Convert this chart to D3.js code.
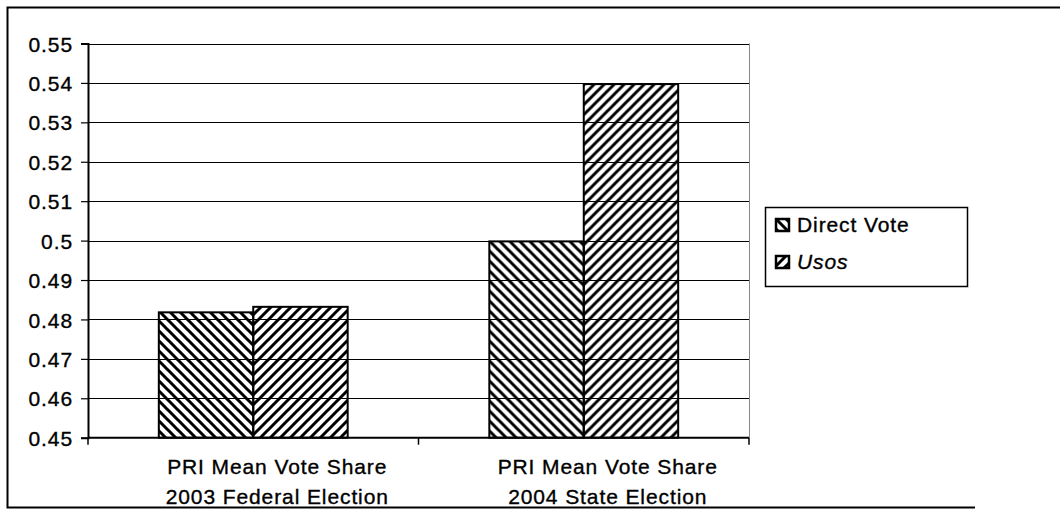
<!DOCTYPE html>
<html lang="en">
<head>
    <meta charset="UTF-8">
    <title>PRI Mean Vote Share</title>
    <style>
        body { margin: 0; background: #fff; }
        svg { display: block; }
        text { font-family: "Liberation Sans", Arial, sans-serif; font-size: 21px; letter-spacing: 0.9px; fill: #000; stroke: #000; stroke-width: 0.35px; }
    </style>
</head>
<body>
    <svg id="chart" width="1060" height="509"></svg>
    <script src="https://d3js.org/d3.v7.min.js"></script>
    <script>
        // data
        const categories = [
            ["PRI Mean Vote Share", "2003 Federal Election"],
            ["PRI Mean Vote Share", "2004 State Election"]
        ];
        const seriesNames = ["Direct Vote", "Usos"];
        const directVote = [0.4818, 0.4998];
        const usos = [0.4832, 0.5397];
        const yTicks = [0.45, 0.46, 0.47, 0.48, 0.49, 0.5, 0.51, 0.52, 0.53, 0.54, 0.55];
        const yTickLabels = ["0.45", "0.46", "0.47", "0.48", "0.49", "0.5", "0.51", "0.52", "0.53", "0.54", "0.55"];

        const plot = { left: 88, right: 749, top: 43.5, bottom: 437.7 };
        const svg = d3.select("#chart");

        // hatch patterns
        const defs = svg.append("defs");
        defs.append("pattern")
            .attr("id", "hatch-back")
            .attr("patternUnits", "userSpaceOnUse")
            .attr("width", 10).attr("height", 10)
            .append("path")
            .attr("d", "M0,0 L10,10 M-2.5,7.5 L2.5,12.5 M7.5,-2.5 L12.5,2.5")
            .attr("stroke", "#000").attr("stroke-width", 3);
        defs.append("pattern")
            .attr("id", "hatch-fwd")
            .attr("patternUnits", "userSpaceOnUse")
            .attr("width", 10).attr("height", 10)
            .append("path")
            .attr("d", "M0,10 L10,0 M-2.5,2.5 L2.5,-2.5 M7.5,12.5 L12.5,7.5")
            .attr("stroke", "#000").attr("stroke-width", 3);
        const fills = ["url(#hatch-back)", "url(#hatch-fwd)"];

        // outer frame
        svg.append("path")
            .attr("d", "M1062,7.5 H7.5 V507.5 H975")
            .attr("fill", "none").attr("stroke", "#000").attr("stroke-width", 2);

        const x0 = d3.scaleBand()
            .domain(d3.range(categories.length))
            .range([plot.left, plot.right]);
        const x1 = d3.scaleBand()
            .domain(seriesNames)
            .range([0, x0.bandwidth()])
            .paddingOuter(0.75);
        const y = d3.scaleLinear()
            .domain([0.45, 0.55])
            .range([plot.bottom, plot.top]);

        // gridlines
        svg.append("g")
            .selectAll("line")
            .data(yTicks.slice(1))
            .join("line")
            .attr("x1", plot.left).attr("x2", plot.right)
            .attr("y1", d => Math.round(y(d)) + 0.5).attr("y2", d => Math.round(y(d)) + 0.5)
            .attr("stroke", "#000").attr("stroke-width", 1.2);

        // right edge of plot area
        svg.append("line")
            .attr("x1", plot.right + 0.5).attr("x2", plot.right + 0.5)
            .attr("y1", plot.top).attr("y2", plot.bottom)
            .attr("stroke", "#888").attr("stroke-width", 1);

        // bars
        const rows = categories.map((c, i) => ({ i, values: [directVote[i], usos[i]] }));
        svg.append("g")
            .selectAll("g")
            .data(rows)
            .join("g")
            .attr("transform", d => `translate(${x0(d.i)},0)`)
            .selectAll("rect")
            .data(d => d.values.map((v, k) => ({ v, k })))
            .join("rect")
            .attr("x", d => x1(seriesNames[d.k]))
            .attr("width", x1.bandwidth())
            .attr("y", d => y(d.v))
            .attr("height", d => y(0.45) - y(d.v))
            .attr("fill", d => fills[d.k])
            .attr("stroke", "#000").attr("stroke-width", 2);

        // y axis
        const yAxis = d3.axisLeft(y)
            .tickValues(yTicks)
            .tickFormat((d, i) => yTickLabels[i])
            .tickSize(7)
            .tickPadding(8);
        const gy = svg.append("g")
            .attr("transform", `translate(${plot.left},0)`)
            .call(yAxis);
        gy.select(".domain").attr("stroke", "#000").attr("stroke-width", 2);
        gy.selectAll(".tick line").attr("stroke", "#000").attr("stroke-width", 1.2);
        gy.selectAll(".tick text").attr("dy", "0.36em");

        // x axis line + category ticks
        svg.append("line")
            .attr("x1", plot.left).attr("x2", plot.right)
            .attr("y1", plot.bottom).attr("y2", plot.bottom)
            .attr("stroke", "#000").attr("stroke-width", 2);
        const bounds = d3.range(categories.length + 1).map(i => i < categories.length ? x0(i) : plot.right);
        svg.append("g")
            .selectAll("line")
            .data(bounds)
            .join("line")
            .attr("x1", d => d).attr("x2", d => d)
            .attr("y1", plot.bottom).attr("y2", plot.bottom + 7)
            .attr("stroke", "#000").attr("stroke-width", 1.5);

        // category labels
        const catLabels = svg.append("g")
            .selectAll("text")
            .data(categories.map((c, i) => ({ c, i })))
            .join("text")
            .attr("text-anchor", "middle");
        catLabels.selectAll("tspan")
            .data(d => d.c.map(line => ({ line, i: d.i })))
            .join("tspan")
            .attr("x", d => x0(d.i) + x0.bandwidth() / 2 + 24)
            .attr("y", (d, j) => plot.bottom + 36 + j * 30)
            .text(d => d.line);

        // legend
        const legend = svg.append("g");
        legend.append("rect")
            .attr("x", 765.5).attr("y", 207.5)
            .attr("width", 202).attr("height", 79)
            .attr("fill", "#fff").attr("stroke", "#000").attr("stroke-width", 1.5);
        const items = legend.selectAll("g.item")
            .data(seriesNames)
            .join("g")
            .attr("class", "item")
            .attr("transform", (d, i) => `translate(776,${219 + i * 37})`);
        items.append("rect")
            .attr("width", 13).attr("height", 12)
            .attr("fill", (d, i) => fills[i])
            .attr("stroke", "#000").attr("stroke-width", 2.5);
        items.append("text")
            .attr("x", 21).attr("y", 13)
            .attr("font-style", (d, i) => i === 1 ? "italic" : "normal")
            .text(d => d);
    </script>
</body>
</html>
